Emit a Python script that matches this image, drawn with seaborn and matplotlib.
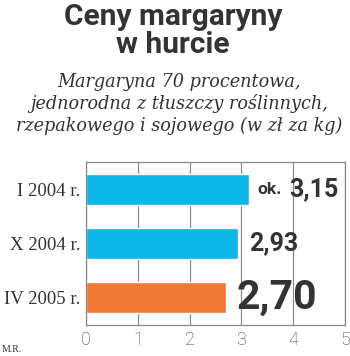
import matplotlib
matplotlib.use("Agg")
import matplotlib.pyplot as plt
import seaborn as sns
import pandas as pd

categories = ["I 2004 r.", "X 2004 r.", "IV 2005 r."]
values = [3.15, 2.93, 2.70]
value_labels = ["3,15", "2,93", "2,70"]
bar_colors = ["#0DB6E8", "#0DB6E8", "#F27836"]
x_ticks = [0, 1, 2, 3, 4, 5]

title = "Ceny margaryny\nw hurcie"
subtitle = "Margaryna 70 procentowa,\njednorodna z tłuszczy roślinnych,\nrzepakowego i sojowego (w zł za kg)"
credit = "M.R."

sns.set_theme(style="white")
plt.rcParams['font.family'] = ['DejaVu Sans']

df = pd.DataFrame({"cat": categories, "val": values})

fig = plt.figure(figsize=(3.5, 3.56), dpi=100)
ax = fig.add_axes([86/350, 1-325/356, (345-86)/350, (325-162)/356])

sns.barplot(data=df, x="val", y="cat", hue="cat", palette=bar_colors,
            width=0.57, legend=False, ax=ax, saturation=1)

ax.set_xlim(0, 5)
ax.set_xticks(x_ticks)
ax.set_xticklabels([str(t) for t in x_ticks], fontfamily="Roboto", fontweight="light",
                   fontsize=13, color="#444444")
ax.set_yticks(range(len(categories)))
ax.set_yticklabels(categories, fontfamily="Liberation Serif", fontsize=13.5, color="#333333")
ax.set_xlabel("")
ax.set_ylabel("")
ax.grid(axis="x", color="#8a8a8a", linewidth=0.9)
ax.set_axisbelow(True)
for s in ax.spines.values():
    s.set_visible(True)
    s.set_color("#8a8a8a")
    s.set_linewidth(0.9)
ax.tick_params(axis="both", length=0, pad=4)
ax.tick_params(axis="x", pad=4)

# value labels
ax.text(values[0] + 0.16, 0, "ok.", fontfamily="Roboto", fontweight="bold", fontsize=12.5,
        color="#333333", va="center", ha="left")
ax.text(values[0] + 0.77, 0, value_labels[0], fontfamily="Roboto", fontweight="bold", fontsize=18,
        color="#333333", va="center", ha="left")
ax.text(values[1] + 0.22, 1, value_labels[1], fontfamily="Roboto", fontweight="bold", fontsize=18,
        color="#333333", va="center", ha="left")
ax.text(values[2] + 0.2, 2, value_labels[2], fontfamily="Roboto", fontweight="bold", fontsize=29.5,
        color="#333333", va="center", ha="left")

fig.text(173/350, 1-31/356, title, ha="center", va="center", fontfamily="Roboto",
         fontweight="bold", fontsize=21.5, color="#333333", linespacing=1.0)
fig.text(179/350, 1-104/356, subtitle, ha="center", va="center", fontfamily="DejaVu Serif",
         fontstyle="italic", fontsize=12.7, color="#333333", linespacing=1.25)
fig.text(2/350, 1-350/356, credit, ha="left", va="center", fontfamily="Liberation Serif",
         fontsize=7, color="#333333")

fig.savefig("out.png", dpi=100)
